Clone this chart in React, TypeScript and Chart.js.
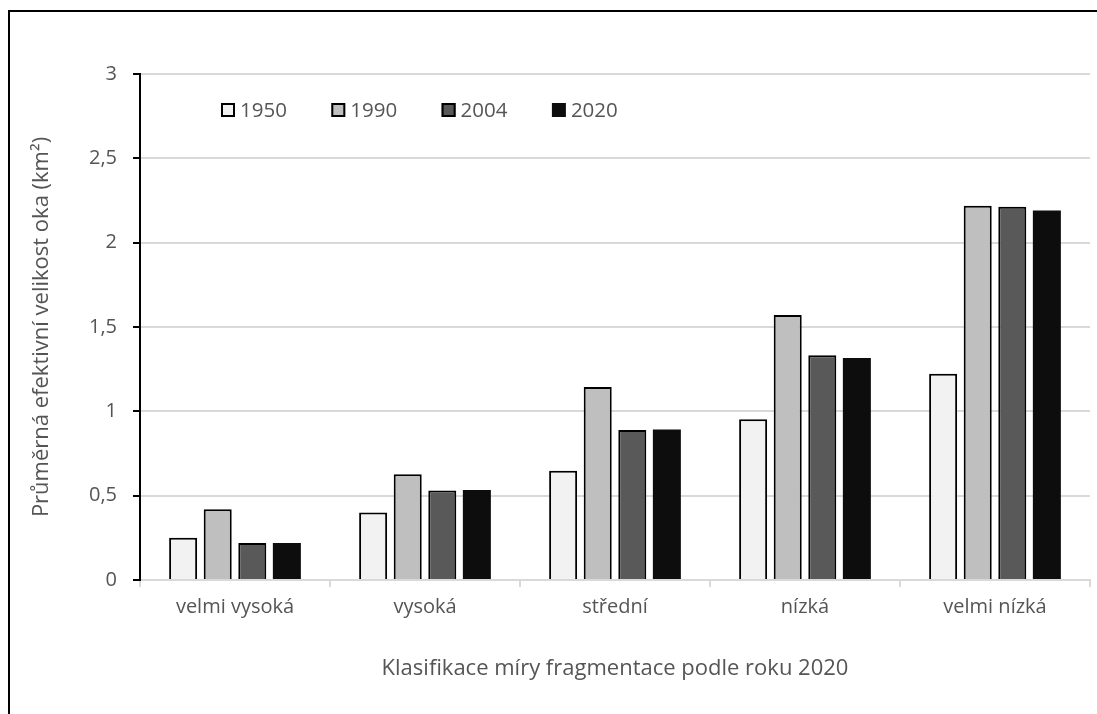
import React, { useEffect, useRef } from "react";
import { Chart, registerables } from "chart.js";

Chart.register(...registerables);

// Fragmentation classes (classification by the year 2020)
const categories = ["velmi vysoká", "vysoká", "střední", "nízká", "velmi nízká"];
const years = ["1950", "1990", "2004", "2020"];

// Mean effective mesh size (km²) per class
const values1950 = [0.25, 0.4, 0.648, 0.953, 1.223];
const values1990 = [0.42, 0.627, 1.144, 1.571, 2.219];
const values2004 = [0.22, 0.53, 0.889, 1.332, 2.213];
const values2020 = [0.22, 0.533, 0.893, 1.316, 2.191];

const yTicks = [0, 0.5, 1, 1.5, 2, 2.5, 3];

const fillColors = ["#f2f2f2", "#bfbfbf", "#595959", "#0d0d0d"];
const edgeColors = ["#000000", "#000000", "#000000", "#0d0d0d"];
const edgeWidths = [2, 2, 2, 0];

const FONT = "'Open Sans', 'DejaVu Sans', sans-serif";
const TEXT = "#555555";

// Outer frame (left and top edges) around the whole figure
const framePlugin = {
  id: "frame",
  beforeDraw(chart: any) {
    const { ctx } = chart;
    ctx.save();
    ctx.fillStyle = "#ffffff";
    ctx.fillRect(0, 0, chart.width, chart.height);
    ctx.strokeStyle = "#000000";
    ctx.lineWidth = 2;
    ctx.beginPath();
    ctx.moveTo(9, chart.height + 2);
    ctx.lineTo(9, 11);
    ctx.lineTo(chart.width + 2, 11);
    ctx.stroke();
    ctx.restore();
  },
};

// Legend drawn inside the plot area, one row of swatches
const innerLegendPlugin = {
  id: "innerLegend",
  afterDraw(chart: any) {
    const { ctx, chartArea } = chart;
    const startX = chartArea.left + 81;
    const boxTop = chartArea.top + 29;
    const step = 110.3;
    const box = 14;
    ctx.save();
    ctx.font = `20.5px ${FONT}`;
    ctx.textBaseline = "middle";
    ctx.textAlign = "left";
    chart.data.datasets.forEach((ds: any, i: number) => {
      const x = startX + i * step;
      ctx.fillStyle = ds.backgroundColor;
      ctx.fillRect(x, boxTop, box, box);
      if (ds.borderWidth > 0) {
        ctx.strokeStyle = ds.borderColor;
        ctx.lineWidth = 2;
        ctx.strokeRect(x + 1, boxTop + 1, box - 2, box - 2);
      }
      ctx.fillStyle = TEXT;
      ctx.fillText(ds.label, x + box + 5, boxTop + box / 2 + 1);
    });
    ctx.restore();
  },
};

export default function App() {
  const canvasRef = useRef<HTMLCanvasElement | null>(null);

  useEffect(() => {
    if (!canvasRef.current) return;
    const series = [values1950, values1990, values2004, values2020];
    const chart = new Chart(canvasRef.current, {
      type: "bar",
      data: {
        labels: categories,
        datasets: years.map((y, i) => ({
          label: y,
          data: series[i],
          backgroundColor: fillColors[i],
          borderColor: edgeColors[i],
          borderWidth: edgeWidths[i],
          categoryPercentage: 0.728,
          barPercentage: 0.81,
        })),
      },
      options: {
        responsive: false,
        animation: false,
        devicePixelRatio: 1,
        layout: { padding: { left: 29, right: 7, top: 74, bottom: 20 } },
        plugins: {
          legend: { display: false },
          tooltip: { enabled: false },
        },
        scales: {
          x: {
            grid: {
              drawOnChartArea: false,
              drawTicks: true,
              tickLength: 7,
              color: "#d9d9d9",
              lineWidth: 2,
            },
            border: { color: "#d9d9d9", width: 2 },
            ticks: {
              color: TEXT,
              font: { family: FONT, size: 20 },
              padding: 8,
              maxRotation: 0,
            },
            title: {
              display: true,
              text: "Klasifikace míry fragmentace podle roku 2020",
              color: TEXT,
              font: { family: FONT, size: 22 },
              padding: { top: 0, bottom: 12 },
            },
            afterFit(scale: any) {
              scale.height = 114;
            },
          },
          y: {
            min: 0,
            max: 3,
            afterBuildTicks(scale: any) {
              scale.ticks = yTicks.map((v) => ({ value: v }));
            },
            grid: {
              color: "#d9d9d9",
              lineWidth: 2,
              tickLength: 7,
              tickColor: "#000000",
              tickWidth: 2,
            },
            border: { color: "#000000", width: 2 },
            ticks: {
              color: TEXT,
              font: { family: FONT, size: 20 },
              padding: 16,
              callback: (v: any) => String(v).replace(".", ","),
            },
            title: {
              display: true,
              text: "Průměrná efektivní velikost oka (km²)",
              color: TEXT,
              font: { family: FONT, size: 22 },
              padding: { top: 0, bottom: 0 },
            },
            afterFit(scale: any) {
              scale.width = 111;
            },
          },
        },
      },
      plugins: [framePlugin, innerLegendPlugin],
    });
    return () => chart.destroy();
  }, []);

  return (
    <div style={{ position: "absolute", left: 0, top: 0, width: 1097, height: 714 }}>
      <canvas ref={canvasRef} width={1097} height={714} style={{ display: "block", width: 1097, height: 714 }} />
    </div>
  );
}
